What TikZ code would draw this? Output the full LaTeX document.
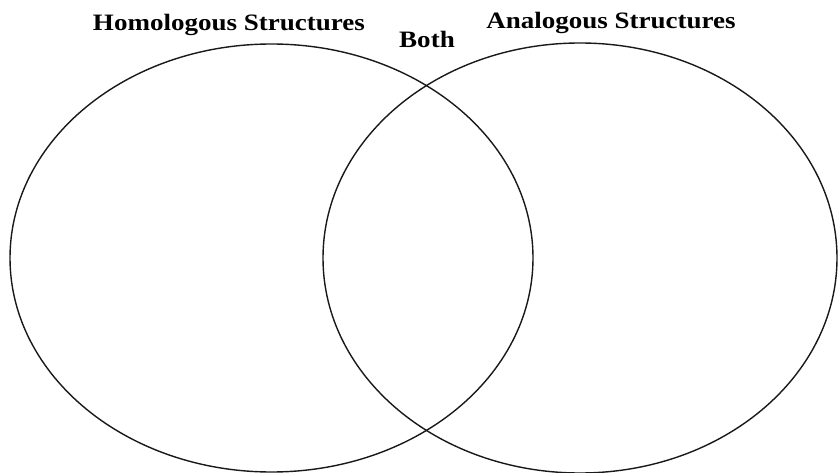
\documentclass[tikz,border=0pt]{standalone}
\usepackage{fontspec}
\setmainfont{Liberation Serif}
\newcommand{\wide}[1]{\scalebox{1.15}[1]{#1}}
\begin{document}
\begin{tikzpicture}[x=1pt,y=-1pt,
  ring/.style={draw=black!90,line width=1.4pt},
  title/.style={font=\bfseries\fontsize{23.5}{26}\selectfont,inner sep=0pt,anchor=base}]
\useasboundingbox (0,0) rectangle (838,473);
\begin{scope}
\clip (0,0) rectangle (838,473);
\draw[ring] (271.5,258) ellipse [x radius=261.5, y radius=214];
\draw[ring] (580,258) ellipse [x radius=257, y radius=215];
\end{scope}
\node[title] (homol) at (229,31) {\wide{Homologous Structures}};
\node[title] (both) at (427,48) {\wide{Both}};
\node[title] (analog) at (611,29) {\wide{Analogous Structures}};
\end{tikzpicture}
\end{document}
